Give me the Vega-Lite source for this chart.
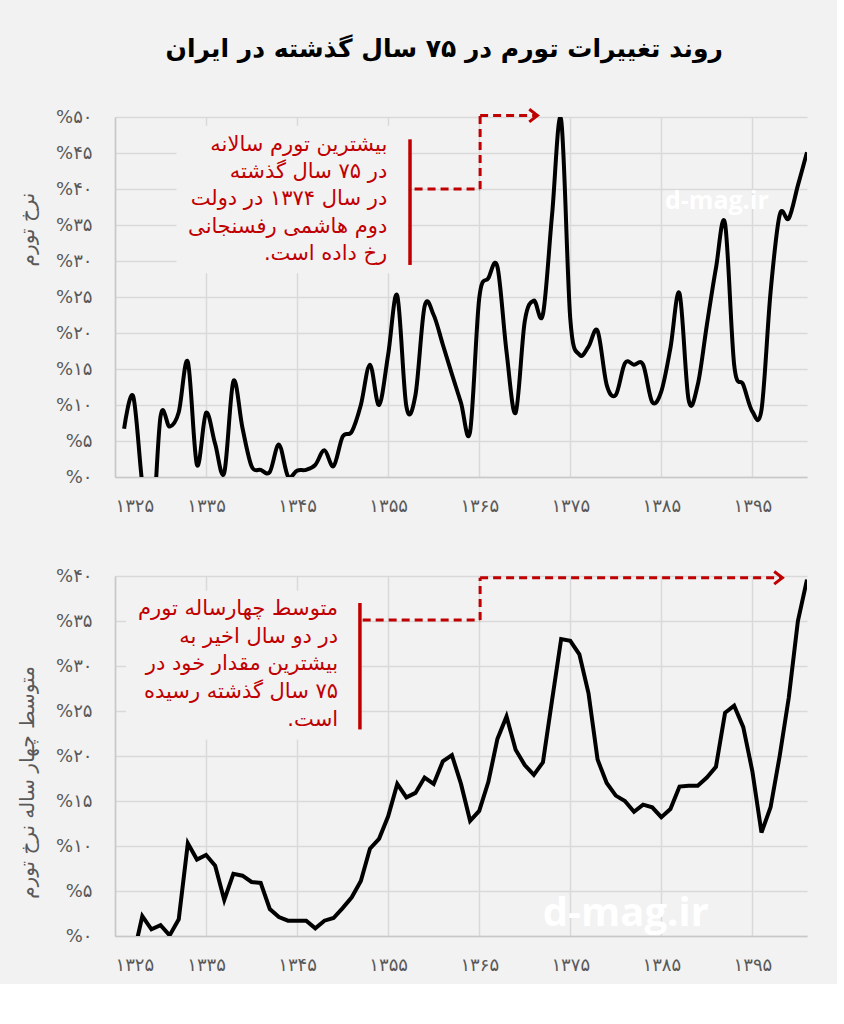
{
  "$schema": "https://vega.github.io/schema/vega-lite/v6.json",
  "background": "#f2f2f2",
  "padding": {"left": 17, "top": 37, "right": 30, "bottom": 10},
  "title": {"text": "روند تغییرات تورم در ۷۵ سال گذشته در ایران", "font": "DejaVu Sans", "fontSize": 25, "fontWeight": "bold", "anchor": "middle", "offset": 41, "dx": 32, "color": "#000000"},
  "config": {
    "view": {"stroke": null},
    "axis": {"labelFont": "DejaVu Sans", "titleFont": "DejaVu Sans", "labelColor": "#595959", "titleColor": "#595959", "gridColor": "#d9d9d9", "gridWidth": 1.5, "domainColor": "#c8c8c8", "domainWidth": 1.5, "ticks": false, "labelFontSize": 18, "titleFontSize": 20, "titleFontWeight": "normal", "labelOverlap": false}
  },
  "spacing": 50,
  "datasets": {
    "annual": [
      {"year": 1326, "inflation": 6.7}, {"year": 1327, "inflation": 11.2}, {"year": 1328, "inflation": -1.0}, {"year": 1329, "inflation": -9.0},
      {"year": 1330, "inflation": 8.4}, {"year": 1331, "inflation": 7.0}, {"year": 1332, "inflation": 9.0}, {"year": 1333, "inflation": 16.0},
      {"year": 1334, "inflation": 1.7}, {"year": 1335, "inflation": 8.9}, {"year": 1336, "inflation": 4.6}, {"year": 1337, "inflation": 0.6},
      {"year": 1338, "inflation": 13.3}, {"year": 1339, "inflation": 6.8}, {"year": 1340, "inflation": 1.5}, {"year": 1341, "inflation": 1.0},
      {"year": 1342, "inflation": 0.7}, {"year": 1343, "inflation": 4.5}, {"year": 1344, "inflation": 0.1}, {"year": 1345, "inflation": 0.9},
      {"year": 1346, "inflation": 1.0}, {"year": 1347, "inflation": 1.7}, {"year": 1348, "inflation": 3.7}, {"year": 1349, "inflation": 1.5},
      {"year": 1350, "inflation": 5.6}, {"year": 1351, "inflation": 6.3}, {"year": 1352, "inflation": 10.0}, {"year": 1353, "inflation": 15.6},
      {"year": 1354, "inflation": 10.0}, {"year": 1355, "inflation": 17.0}, {"year": 1356, "inflation": 25.2}, {"year": 1357, "inflation": 9.8},
      {"year": 1358, "inflation": 11.4}, {"year": 1359, "inflation": 23.7}, {"year": 1360, "inflation": 22.5}, {"year": 1361, "inflation": 18.4},
      {"year": 1362, "inflation": 14.3}, {"year": 1363, "inflation": 10.3}, {"year": 1364, "inflation": 6.3}, {"year": 1365, "inflation": 24.8},
      {"year": 1366, "inflation": 27.6}, {"year": 1367, "inflation": 29.2}, {"year": 1368, "inflation": 17.4}, {"year": 1369, "inflation": 8.9},
      {"year": 1370, "inflation": 21.6}, {"year": 1371, "inflation": 24.5}, {"year": 1372, "inflation": 22.6}, {"year": 1373, "inflation": 36.4},
      {"year": 1374, "inflation": 49.6}, {"year": 1375, "inflation": 22.0}, {"year": 1376, "inflation": 17.0}, {"year": 1377, "inflation": 18.1},
      {"year": 1378, "inflation": 20.3}, {"year": 1379, "inflation": 12.8}, {"year": 1380, "inflation": 11.4}, {"year": 1381, "inflation": 15.8},
      {"year": 1382, "inflation": 15.6}, {"year": 1383, "inflation": 15.6}, {"year": 1384, "inflation": 10.4}, {"year": 1385, "inflation": 11.9},
      {"year": 1386, "inflation": 17.9}, {"year": 1387, "inflation": 25.5}, {"year": 1388, "inflation": 10.7}, {"year": 1389, "inflation": 12.8},
      {"year": 1390, "inflation": 21.1}, {"year": 1391, "inflation": 29.0}, {"year": 1392, "inflation": 35.2}, {"year": 1393, "inflation": 15.6},
      {"year": 1394, "inflation": 12.8}, {"year": 1395, "inflation": 9.1}, {"year": 1396, "inflation": 9.3}, {"year": 1397, "inflation": 25.7},
      {"year": 1398, "inflation": 36.4}, {"year": 1399, "inflation": 35.9}, {"year": 1400, "inflation": 40.5}, {"year": 1401, "inflation": 45.1}
    ],
    "avg4": [
      {"year": 1327, "avg": -2.3}, {"year": 1328, "avg": 2.2}, {"year": 1329, "avg": 0.74}, {"year": 1330, "avg": 1.2},
      {"year": 1331, "avg": 0.07}, {"year": 1332, "avg": 1.85}, {"year": 1333, "avg": 10.3}, {"year": 1334, "avg": 8.5},
      {"year": 1335, "avg": 9.0}, {"year": 1336, "avg": 7.8}, {"year": 1337, "avg": 4.0}, {"year": 1338, "avg": 6.9},
      {"year": 1339, "avg": 6.7}, {"year": 1340, "avg": 6.0}, {"year": 1341, "avg": 5.9}, {"year": 1342, "avg": 3.0},
      {"year": 1343, "avg": 2.1}, {"year": 1344, "avg": 1.7}, {"year": 1345, "avg": 1.7}, {"year": 1346, "avg": 1.7},
      {"year": 1347, "avg": 0.85}, {"year": 1348, "avg": 1.7}, {"year": 1349, "avg": 2.0}, {"year": 1350, "avg": 3.1},
      {"year": 1351, "avg": 4.3}, {"year": 1352, "avg": 6.1}, {"year": 1353, "avg": 9.7}, {"year": 1354, "avg": 10.8},
      {"year": 1355, "avg": 13.3}, {"year": 1356, "avg": 16.9}, {"year": 1357, "avg": 15.4}, {"year": 1358, "avg": 15.9},
      {"year": 1359, "avg": 17.6}, {"year": 1360, "avg": 16.9}, {"year": 1361, "avg": 19.4}, {"year": 1362, "avg": 20.1},
      {"year": 1363, "avg": 16.9}, {"year": 1364, "avg": 12.8}, {"year": 1365, "avg": 13.9}, {"year": 1366, "avg": 17.1},
      {"year": 1367, "avg": 21.9}, {"year": 1368, "avg": 24.4}, {"year": 1369, "avg": 20.7}, {"year": 1370, "avg": 19.0},
      {"year": 1371, "avg": 17.9}, {"year": 1372, "avg": 19.3}, {"year": 1373, "avg": 26.2}, {"year": 1374, "avg": 33.0},
      {"year": 1375, "avg": 32.8}, {"year": 1376, "avg": 31.3}, {"year": 1377, "avg": 27.0}, {"year": 1378, "avg": 19.6},
      {"year": 1379, "avg": 17.0}, {"year": 1380, "avg": 15.6}, {"year": 1381, "avg": 15.0}, {"year": 1382, "avg": 13.8},
      {"year": 1383, "avg": 14.6}, {"year": 1384, "avg": 14.3}, {"year": 1385, "avg": 13.2}, {"year": 1386, "avg": 14.1},
      {"year": 1387, "avg": 16.6}, {"year": 1388, "avg": 16.7}, {"year": 1389, "avg": 16.7}, {"year": 1390, "avg": 17.6},
      {"year": 1391, "avg": 18.8}, {"year": 1392, "avg": 24.8}, {"year": 1393, "avg": 25.6}, {"year": 1394, "avg": 23.2},
      {"year": 1395, "avg": 18.3}, {"year": 1396, "avg": 11.5}, {"year": 1397, "avg": 14.3}, {"year": 1398, "avg": 20.0},
      {"year": 1399, "avg": 26.5}, {"year": 1400, "avg": 35.0}, {"year": 1401, "avg": 39.6}
    ]
  },
  "vconcat": [
    {
      "width": 692,
      "height": 360,
      "layer": [
        {
          "data": {"name": "annual"},
          "mark": {"type": "line", "interpolate": "cardinal", "tension": 0, "color": "#000000", "strokeWidth": 4, "clip": true},
          "encoding": {
            "x": {"field": "year", "type": "quantitative", "scale": {"domain": [1325, 1401], "nice": false, "zero": false},
              "axis": {"values": [1325, 1335, 1345, 1355, 1365, 1375, 1385, 1395], "title": null, "labelPadding": 20, "grid": true,
                "labelExpr": "replace(replace(replace(replace(replace(replace(replace(replace(replace(replace(toString(datum.value),regexp('0','g'),'۰'),regexp('1','g'),'۱'),regexp('2','g'),'۲'),regexp('3','g'),'۳'),regexp('4','g'),'۴'),regexp('5','g'),'۵'),regexp('6','g'),'۶'),regexp('7','g'),'۷'),regexp('8','g'),'۸'),regexp('9','g'),'۹')"}},
            "y": {"field": "inflation", "type": "quantitative", "scale": {"domain": [0, 50], "nice": false},
              "axis": {"values": [0, 5, 10, 15, 20, 25, 30, 35, 40, 45, 50], "tickCount": 11, "title": "نرخ تورم", "titleY": 112, "labelPadding": 23, "titlePadding": 18, "grid": true,
                "labelExpr": "'%' + replace(replace(replace(replace(replace(replace(replace(replace(replace(replace(toString(datum.value),regexp('0','g'),'۰'),regexp('1','g'),'۱'),regexp('2','g'),'۲'),regexp('3','g'),'۳'),regexp('4','g'),'۴'),regexp('5','g'),'۵'),regexp('6','g'),'۶'),regexp('7','g'),'۷'),regexp('8','g'),'۸'),regexp('9','g'),'۹')"}}
          }
        },
        {
          "data": {"values": [{}]},
          "mark": {"type": "text", "text": "d-mag.ir", "font": "Open Sans", "fontSize": 25, "fontWeight": "bold", "color": "#ffffff", "align": "center", "baseline": "middle"},
          "encoding": {"x": {"datum": 1391.1, "type": "quantitative"}, "y": {"datum": 38.4, "type": "quantitative"}}
        },
        {
          "data": {"values": [{}]},
          "mark": {"type": "rect", "fill": "#f2f2f2"},
          "encoding": {"x": {"datum": 1331.75, "type": "quantitative"}, "x2": {"datum": 1357.2}, "y": {"datum": 48.8, "type": "quantitative"}, "y2": {"datum": 28.3}}
        },
        {
          "data": {"values": [{}]},
          "mark": {"type": "rule", "color": "#c00000", "strokeWidth": 3.5},
          "encoding": {"x": {"datum": 1357.4, "type": "quantitative"}, "y": {"datum": 46.9, "type": "quantitative"}, "y2": {"datum": 29.45}}
        },
        {
          "data": {"values": [{}]},
          "mark": {"type": "rule", "color": "#c00000", "strokeWidth": 3, "strokeDash": [8, 5]},
          "encoding": {"x": {"datum": 1357.9, "type": "quantitative"}, "x2": {"datum": 1365.1}, "y": {"datum": 40, "type": "quantitative"}}
        },
        {
          "data": {"values": [{}]},
          "mark": {"type": "rule", "color": "#c00000", "strokeWidth": 3, "strokeDash": [8, 5]},
          "encoding": {"x": {"datum": 1365.1, "type": "quantitative"}, "y": {"datum": 40, "type": "quantitative"}, "y2": {"datum": 50.2}}
        },
        {
          "data": {"values": [{}]},
          "mark": {"type": "rule", "color": "#c00000", "strokeWidth": 3, "strokeDash": [8, 5]},
          "encoding": {"x": {"datum": 1365.1, "type": "quantitative"}, "x2": {"datum": 1371.3}, "y": {"datum": 50.2, "type": "quantitative"}}
        },
        {
          "data": {"values": [{}]},
          "mark": {"type": "point", "shape": "M -1.3 -1 L 0 0 L -1.3 1", "filled": false, "stroke": "#c00000", "strokeWidth": 3, "size": 160, "opacity": 1},
          "encoding": {"x": {"datum": 1371.4, "type": "quantitative"}, "y": {"datum": 50.2, "type": "quantitative"}}
        },
        {
          "data": {"values": [{}]},
          "mark": {"type": "text", "text": ["‏بیشترین تورم سالانه‏", "‏در ۷۵ سال گذشته‏", "‏در سال ۱۳۷۴ در دولت‏", "‏دوم هاشمی رفسنجانی‏", "‏رخ داده است.‏"], "align": "right", "baseline": "middle", "lineHeight": 27.2, "font": "DejaVu Sans", "fontSize": 21, "color": "#c00000"},
          "encoding": {"x": {"datum": 1354.9, "type": "quantitative"}, "y": {"datum": 46.1, "type": "quantitative"}}
        }
      ]
    },
    {
      "width": 692,
      "height": 360,
      "layer": [
        {
          "data": {"name": "avg4"},
          "mark": {"type": "line", "color": "#000000", "strokeWidth": 4, "clip": true},
          "encoding": {
            "x": {"field": "year", "type": "quantitative", "scale": {"domain": [1325, 1401], "nice": false, "zero": false},
              "axis": {"values": [1325, 1335, 1345, 1355, 1365, 1375, 1385, 1395], "title": null, "labelPadding": 20, "grid": true,
                "labelExpr": "replace(replace(replace(replace(replace(replace(replace(replace(replace(replace(toString(datum.value),regexp('0','g'),'۰'),regexp('1','g'),'۱'),regexp('2','g'),'۲'),regexp('3','g'),'۳'),regexp('4','g'),'۴'),regexp('5','g'),'۵'),regexp('6','g'),'۶'),regexp('7','g'),'۷'),regexp('8','g'),'۸'),regexp('9','g'),'۹')"}},
            "y": {"field": "avg", "type": "quantitative", "scale": {"domain": [0, 40], "nice": false},
              "axis": {"values": [0, 5, 10, 15, 20, 25, 30, 35, 40], "tickCount": 9, "title": "متوسط چهار ساله نرخ تورم", "titleY": 206, "labelPadding": 23, "titlePadding": 18, "grid": true,
                "labelExpr": "'%' + replace(replace(replace(replace(replace(replace(replace(replace(replace(replace(toString(datum.value),regexp('0','g'),'۰'),regexp('1','g'),'۱'),regexp('2','g'),'۲'),regexp('3','g'),'۳'),regexp('4','g'),'۴'),regexp('5','g'),'۵'),regexp('6','g'),'۶'),regexp('7','g'),'۷'),regexp('8','g'),'۸'),regexp('9','g'),'۹')"}}
          }
        },
        {
          "data": {"values": [{}]},
          "mark": {"type": "text", "text": "d-mag.ir", "font": "Open Sans", "fontSize": 40, "fontWeight": "bold", "color": "#ffffff", "align": "center", "baseline": "middle"},
          "encoding": {"x": {"datum": 1381.1, "type": "quantitative"}, "y": {"datum": 2.4, "type": "quantitative"}}
        },
        {
          "data": {"values": [{}]},
          "mark": {"type": "rect", "fill": "#f2f2f2"},
          "encoding": {"x": {"datum": 1326.2, "type": "quantitative"}, "x2": {"datum": 1351.7}, "y": {"datum": 38.4, "type": "quantitative"}, "y2": {"datum": 21.8}}
        },
        {
          "data": {"values": [{}]},
          "mark": {"type": "rule", "color": "#c00000", "strokeWidth": 3.5},
          "encoding": {"x": {"datum": 1351.9, "type": "quantitative"}, "y": {"datum": 37.0, "type": "quantitative"}, "y2": {"datum": 22.95}}
        },
        {
          "data": {"values": [{}]},
          "mark": {"type": "rule", "color": "#c00000", "strokeWidth": 3, "strokeDash": [8, 5]},
          "encoding": {"x": {"datum": 1352.2, "type": "quantitative"}, "x2": {"datum": 1365.1}, "y": {"datum": 35.1, "type": "quantitative"}}
        },
        {
          "data": {"values": [{}]},
          "mark": {"type": "rule", "color": "#c00000", "strokeWidth": 3, "strokeDash": [8, 5]},
          "encoding": {"x": {"datum": 1365.1, "type": "quantitative"}, "y": {"datum": 35.1, "type": "quantitative"}, "y2": {"datum": 39.8}}
        },
        {
          "data": {"values": [{}]},
          "mark": {"type": "rule", "color": "#c00000", "strokeWidth": 3, "strokeDash": [8, 5]},
          "encoding": {"x": {"datum": 1365.1, "type": "quantitative"}, "x2": {"datum": 1398.2}, "y": {"datum": 39.8, "type": "quantitative"}}
        },
        {
          "data": {"values": [{}]},
          "mark": {"type": "point", "shape": "M -1.3 -1 L 0 0 L -1.3 1", "filled": false, "stroke": "#c00000", "strokeWidth": 3, "size": 160, "opacity": 1},
          "encoding": {"x": {"datum": 1398.3, "type": "quantitative"}, "y": {"datum": 39.8, "type": "quantitative"}}
        },
        {
          "data": {"values": [{}]},
          "mark": {"type": "text", "text": ["‏متوسط چهارساله تورم‏", "‏در دو سال اخیر به‏", "‏بیشترین مقدار خود در‏", "‏۷۵ سال گذشته رسیده‏", "‏است.‏"], "align": "right", "baseline": "middle", "lineHeight": 27.6, "font": "DejaVu Sans", "fontSize": 21, "color": "#c00000"},
          "encoding": {"x": {"datum": 1349.5, "type": "quantitative"}, "y": {"datum": 36.3, "type": "quantitative"}}
        }
      ]
    }
  ]
}
